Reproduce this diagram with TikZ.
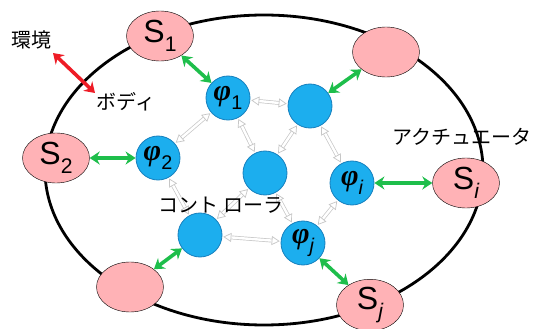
\documentclass[tikz,border=0pt]{standalone}
\usepackage{fontspec}
\setmainfont{Liberation Sans}
\newfontfamily\jpfont{Noto Sans CJK JP}
\newfontfamily\grkfont{Liberation Serif}
\usetikzlibrary{arrows.meta,shapes.geometric}
\definecolor{skin}{RGB}{255,178,182}
\definecolor{cell}{RGB}{28,174,238}
\definecolor{cellrim}{RGB}{22,128,190}
\definecolor{link}{RGB}{30,190,75}
\definecolor{envred}{RGB}{238,28,38}
\newcommand\lowidx[1]{\raisebox{-.3em}{\scalebox{.66}{#1}}}
\newcommand\phiof[1]{{\grkfont\bfseries\itshape φ}\lowidx{#1}}

\begin{document}
\begin{tikzpicture}[x=1pt,y=-1pt,
  sensor/.style={ellipse,draw,thin,fill=skin,minimum width=67pt,minimum height=50pt,inner sep=0pt,font=\fontsize{32}{32}\selectfont},
  neuron/.style={circle,fill=cell,draw=cellrim,line width=.8pt,minimum size=44pt,inner sep=0pt,font=\fontsize{30}{30}\selectfont},
  label/.style={font=\jpfont\fontsize{20}{20}\selectfont},
  wire/.style={{Stealth[length=10pt,width=13pt]}-{Stealth[length=10pt,width=13pt]},line width=3.6pt,draw=link},
  syn/.style={{Triangle[open,length=8pt,width=9pt]}-{Triangle[open,length=8pt,width=9pt]},draw=gray!45,double=white,double distance=2.4pt,line width=.7pt,shorten <=1pt,shorten >=1pt}]
\useasboundingbox (0,0) rectangle (542,329);
% body
\draw[line width=2.8pt,fill=white] (264,170) ellipse [x radius=219,y radius=155];
% sensors on the body
\node[sensor] (s1) at (160,36) {S\lowidx{1}};
\node[sensor] (sa) at (386,52) {};
\node[sensor] (s2) at (56,158) {S\lowidx{2}};
\node[sensor] (si) at (466,183) {S\lowidx{\itshape i}};
\node[sensor] (sb) at (130,287) {};
\node[sensor] (sj) at (370,305) {S\lowidx{\itshape j}};
% controller
\node[neuron] (p1) at (228,98) {\phiof{1}};
\node[neuron] (pa) at (310,106) {};
\node[neuron] (p2) at (158,158) {\phiof{2}};
\node[neuron] (pc) at (265,173) {};
\node[neuron] (pi) at (352,183) {\phiof{\itshape i}};
\node[neuron] (pb) at (200,235) {};
\node[neuron] (pj) at (303,243) {\phiof{\itshape j}};
\foreach \a/\b in {p1/pa,p1/p2,p1/pc,pa/pc,pa/pi,p2/pb,pc/pb,pc/pj,pi/pj,pb/pj}
  \draw[syn] (\a) -- (\b);
\foreach \a/\b in {s1/p1,sa/pa,s2/p2,si/pi,sb/pb,sj/pj}
  \draw[wire] (\a) -- (\b);
% labels
\node[label] (env) at (32,40) {環境};
\node[label] (body) at (126,102) {ボディ};
\node[label] (act) at (462,137) {アクチュエータ};
\node[label] (ctrl) at (221,205) {コント ローラ};
\coordinate (envtip) at (53,53);
\coordinate (bodytip) at (95,93);
\draw[wire,draw=envred] (envtip) -- (bodytip);
\end{tikzpicture}
\end{document}
